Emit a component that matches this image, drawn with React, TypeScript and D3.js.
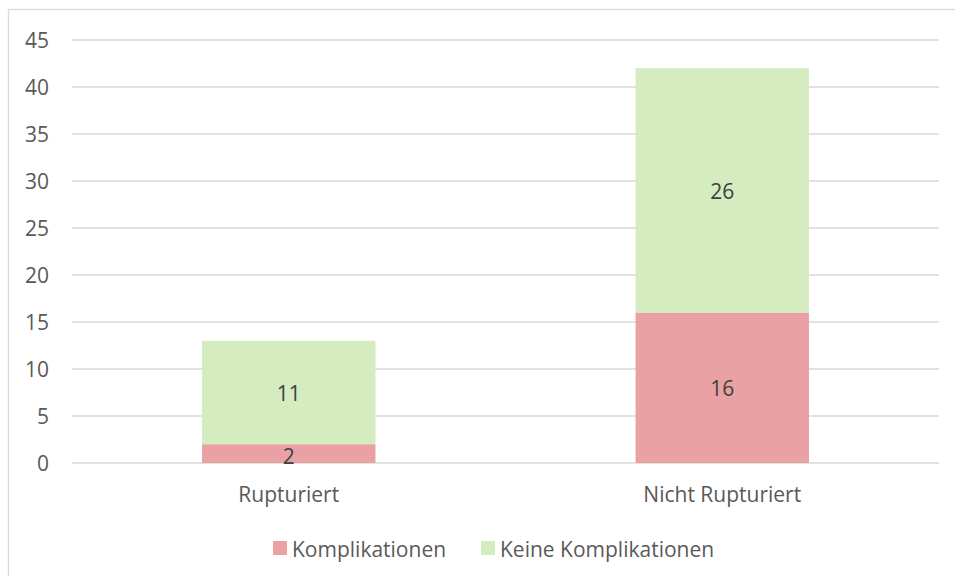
import React, { useEffect, useRef } from 'react';
import * as d3 from 'd3';

const categories = ['Rupturiert', 'Nicht Rupturiert'];
const seriesNames = ['Komplikationen', 'Keine Komplikationen'];
const komplikationen = [2, 16];
const keineKomplikationen = [11, 26];
const yTicks = [0, 5, 10, 15, 20, 25, 30, 35, 40, 45];
const colors = ['#EAA1A4', '#D4ECBF'];

export default function App() {
    const ref = useRef<SVGSVGElement>(null);

    useEffect(() => {
        const width = 955, height = 576;
        const margin = { top: 40, right: 16, bottom: 113, left: 72 };
        const font = '"Open Sans", sans-serif';
        const fs = 21;

        const svg = d3.select(ref.current);
        svg.selectAll('*').remove();

        // rahmen
        svg.append('rect')
            .attr('x', 8.5).attr('y', 9.5)
            .attr('width', 1000).attr('height', 1000)
            .attr('fill', 'white')
            .attr('stroke', '#D9D9D9')
            .attr('stroke-width', 1.3);

        const x = d3.scaleBand<string>()
            .domain(categories)
            .range([margin.left, width - margin.right]);

        const y = d3.scaleLinear()
            .domain([0, 45])
            .range([height - margin.bottom, margin.top]);

        // gitterlinien
        svg.append('g')
            .selectAll('line')
            .data(yTicks)
            .enter().append('line')
            .attr('x1', margin.left)
            .attr('x2', width - margin.right)
            .attr('y1', d => y(d))
            .attr('y2', d => y(d))
            .attr('stroke', '#D9D9D9')
            .attr('stroke-width', 1.4);

        // y achse
        svg.append('g')
            .selectAll('text')
            .data(yTicks)
            .enter().append('text')
            .attr('x', 49)
            .attr('y', d => y(d) + fs * 0.36)
            .attr('text-anchor', 'end')
            .attr('font-family', font)
            .attr('font-size', fs)
            .attr('fill', '#595959')
            .text(d => d);

        const stacked = d3.stack<number>()
            .keys(['0', '1'])
            .value((i, key) => (key === '0' ? komplikationen[i] : keineKomplikationen[i]))(
                categories.map((_, i) => i)
            );

        const barW = x.bandwidth() * 0.4;

        stacked.forEach((layer, li) => {
            const g = svg.append('g');
            g.selectAll('rect')
                .data(layer)
                .enter().append('rect')
                .attr('x', d => (x(categories[d.data]) as number) + (x.bandwidth() - barW) / 2)
                .attr('y', d => y(d[1]))
                .attr('width', barW)
                .attr('height', d => y(d[0]) - y(d[1]))
                .attr('fill', colors[li]);

            g.selectAll('text')
                .data(layer)
                .enter().append('text')
                .attr('x', d => (x(categories[d.data]) as number) + x.bandwidth() / 2)
                .attr('y', d => y((d[0] + d[1]) / 2) + fs * 0.36 + (d[1] - d[0] < 3 ? 3 : 1))
                .attr('text-anchor', 'middle')
                .attr('font-family', font)
                .attr('font-size', fs)
                .attr('fill', '#404040')
                .text(d => d[1] - d[0]);
        });

        // x achse beschriftung
        svg.append('g')
            .selectAll('text')
            .data(categories)
            .enter().append('text')
            .attr('x', d => (x(d) as number) + x.bandwidth() / 2)
            .attr('y', 502)
            .attr('text-anchor', 'middle')
            .attr('font-family', font)
            .attr('font-size', fs)
            .attr('fill', '#595959')
            .text(d => d);

        // legende
        const legendX = [273, 481];
        const lg = svg.append('g')
            .selectAll('g')
            .data(seriesNames)
            .enter().append('g')
            .attr('transform', (d, i) => `translate(${legendX[i]},541)`);

        lg.append('rect')
            .attr('width', 14)
            .attr('height', 14)
            .attr('fill', (d, i) => colors[i]);

        lg.append('text')
            .attr('x', 19)
            .attr('y', 15.5)
            .attr('font-family', font)
            .attr('font-size', fs)
            .attr('fill', '#595959')
            .text(d => d);
    }, []);

    return (
        <div style={{ position: 'absolute', left: 0, top: 0 }}>
            <svg ref={ref} width={955} height={576} style={{ display: 'block' }} />
        </div>
    );
}
